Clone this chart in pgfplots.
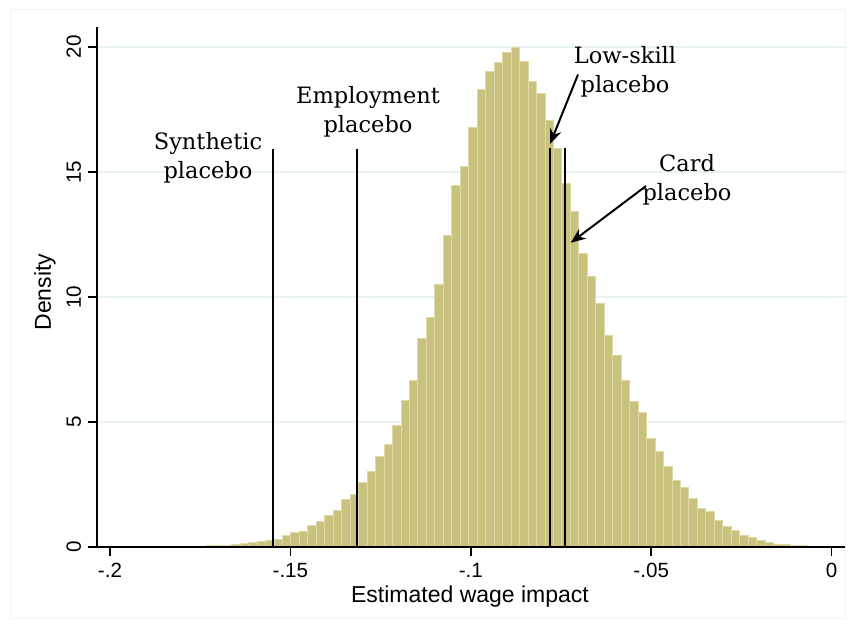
\documentclass[border=0pt]{standalone}
\usepackage{fontspec}
\setmainfont{Liberation Sans}
\newfontfamily\annfont{DejaVu Serif}
\usepackage{pgfplots}
\pgfplotsset{compat=1.18}
\usepackage{pgfplotstable}
\usetikzlibrary{arrows.meta}

\definecolor{khaki}{RGB}{201,194,127}
\definecolor{khakiedge}{RGB}{223,217,166}
\definecolor{gridblue}{RGB}{232,241,244}

% histogram bins: left edge, density (last row closes the final bin)
\pgfplotstableread{
x y
-0.17801 0.03
-0.17566 0.04
-0.17332 0.05
-0.17097 0.07
-0.16862 0.08
-0.16628 0.11
-0.16393 0.15
-0.16158 0.20
-0.15923 0.24
-0.15689 0.28
-0.15454 0.32
-0.15219 0.45
-0.14985 0.57
-0.14750 0.64
-0.14515 0.85
-0.14281 1.04
-0.14046 1.25
-0.13811 1.48
-0.13576 1.91
-0.13342 2.11
-0.13107 2.59
-0.12872 3.01
-0.12638 3.63
-0.12403 4.12
-0.12168 4.88
-0.11934 5.88
-0.11699 6.68
-0.11464 8.35
-0.11229 9.19
-0.10995 10.51
-0.10760 12.44
-0.10525 14.44
-0.10291 15.21
-0.10056 16.76
-0.09821 18.28
-0.09587 19.01
-0.09352 19.39
-0.09117 19.79
-0.08882 19.99
-0.08648 19.43
-0.08413 18.61
-0.08178 18.15
-0.07944 17.05
-0.07709 15.95
-0.07474 14.55
-0.07240 13.41
-0.07005 11.75
-0.06770 10.81
-0.06535 9.75
-0.06301 8.44
-0.06066 7.65
-0.05831 6.68
-0.05597 5.81
-0.05362 5.37
-0.05127 4.35
-0.04893 3.81
-0.04658 3.21
-0.04423 2.68
-0.04188 2.39
-0.03954 1.95
-0.03719 1.55
-0.03484 1.44
-0.03250 1.08
-0.03015 0.81
-0.02780 0.65
-0.02546 0.48
-0.02311 0.37
-0.02076 0.28
-0.01841 0.19
-0.01607 0.12
-0.01372 0.12
-0.01137 0.05
-0.00903 0.05
-0.00668 0.03
-0.00433 0.03
}\histdata

\begin{document}
\begin{tikzpicture}
\path[use as bounding box] (-48.5bp,-41bp) rectangle (378.5bp,273.5bp);
\draw[black!5] (-43.5bp,-35.5bp) rectangle (374bp,269bp);
\begin{axis}[
  at={(0,0)}, anchor=south west,
  scale only axis,
  width=374bp, height=260bp,
  xmin=-0.2036, xmax=0.0037,
  ymin=0, ymax=20.8,
  axis lines*=left,
  axis line style={line width=0.75bp},
  tick align=outside,
  major tick length=4.5bp,
  tick style={black, line width=0.75bp},
  xtick={-0.2,-0.15,-0.1,-0.05,0},
  xticklabels={-.2,-.15,-.1,-.05,0},
  ytick={0,5,10,15,20},
  yticklabels={0,5,10,15,20},
  ymajorgrids,
  grid style={gridblue, line width=0.75bp},
  tick label style={font=\fontsize{10.3bp}{12bp}\selectfont},
  yticklabel style={rotate=90, anchor=south},
  xlabel={Estimated wage impact},
  ylabel={Density},
  every axis x label/.style={at={(axis description cs:0.4987,-0.096)}, anchor=center,
    font=\fontsize{11.5bp}{13bp}\selectfont},
  every axis y label/.style={at={(axis description cs:-0.0695,0.49)}, rotate=90, anchor=center,
    font=\fontsize{11.5bp}{13bp}\selectfont},
]
\addplot[ybar interval, fill=khaki, draw=khakiedge, line width=0.5bp] table[x=x, y=y] {\histdata};

\addplot[black, line width=1.1bp] coordinates {(-0.1549,0) (-0.1549,15.9)};
\addplot[black, line width=1.1bp] coordinates {(-0.1315,0) (-0.1315,15.9)};
\addplot[black, line width=1.1bp] coordinates {(-0.0781,0) (-0.0781,15.95)};
\addplot[black, line width=1.1bp] coordinates {(-0.0740,0) (-0.0740,15.95)};

% redraw the x axis line over the bar edges
\draw[black, line width=0.75bp] (axis cs:-0.2036,0) -- (axis cs:0.0037,0);

\node[font=\annfont\fontsize{11.25bp}{14.5bp}\selectfont, align=center]
  at (axis cs:-0.17284,15.58) {Synthetic\\placebo};
\node[font=\annfont\fontsize{11.25bp}{14.5bp}\selectfont, align=center]
  at (axis cs:-0.12849,17.42) {Employment\\placebo};
\node[font=\annfont\fontsize{11.25bp}{14.5bp}\selectfont, align=center]
  at (axis cs:-0.05726,19.0) {Low-skill\\placebo};
\node[font=\annfont\fontsize{11.25bp}{14.5bp}\selectfont, align=center]
  at (axis cs:-0.04008,14.68) {Card\\placebo};

\draw[-{Stealth[length=7.5bp,width=6bp]}, line width=1bp]
  (axis cs:-0.07029,18.9) -- (axis cs:-0.07805,16.12);
\draw[-{Stealth[length=7.5bp,width=6bp]}, line width=1bp]
  (axis cs:-0.05144,14.44) -- (axis cs:-0.07231,12.17);
\end{axis}
\end{tikzpicture}
\end{document}
